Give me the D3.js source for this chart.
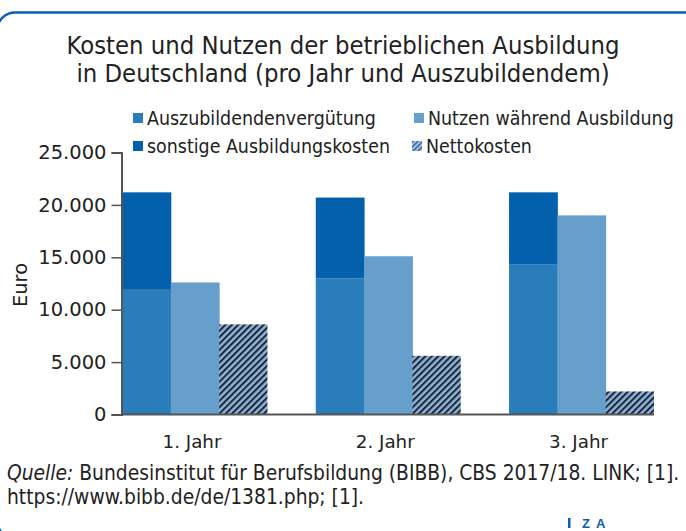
<!DOCTYPE html>
<html lang="de">
<head>
<meta charset="utf-8">
<title>Kosten und Nutzen der betrieblichen Ausbildung</title>
<script src="https://d3js.org/d3.v7.min.js"></script>
<style>
  body { margin: 0; background: #fff; }
  svg { display: block; }
  .narrow { font-family: "Liberation Sans Narrow", "DejaVu Sans Condensed", "Roboto", sans-serif; fill: #222; }
  .wide { font-family: "DejaVu Sans", "Liberation Sans", sans-serif; fill: #222; }
</style>
</head>
<body>
<svg width="686" height="531"></svg>
<script>
// data, in Euro
var years = ['1. Jahr', '2. Jahr', '3. Jahr'];
var verguetung = [11900, 13000, 14300];
var sonstige = [9300, 7700, 6900];
var nutzen = [12600, 15100, 19000];
var netto = [8600, 5600, 2200];
var yTicks = [0, 5000, 10000, 15000, 20000, 25000];

var svg = d3.select('svg');
var x0 = 122.5, x1 = 654, yTop = 152.5, yBot = 414.5;

// frame
svg.append('rect')
  .attr('x', -3).attr('y', 12.5)
  .attr('width', 720).attr('height', 526)
  .attr('rx', 18).attr('ry', 18)
  .attr('fill', 'none').attr('stroke', '#0b5fae').attr('stroke-width', 2.5);

// hatch pattern
var defs = svg.append('defs');
var pat = defs.append('pattern')
  .attr('id', 'hatch').attr('patternUnits', 'userSpaceOnUse')
  .attr('width', 4.5).attr('height', 4.5)
  .attr('patternTransform', 'rotate(45)');
pat.append('rect').attr('width', 4.5).attr('height', 4.5).attr('fill', '#8db2d8');
pat.append('rect').attr('width', 2).attr('height', 4.5).attr('fill', '#1c2634');
var pat2 = defs.append('pattern')
  .attr('id', 'hatchLeg').attr('patternUnits', 'userSpaceOnUse')
  .attr('width', 3.5).attr('height', 3.5)
  .attr('patternTransform', 'rotate(45)');
pat2.append('rect').attr('width', 3.5).attr('height', 3.5).attr('fill', '#a9c6e6');
pat2.append('rect').attr('width', 1.6).attr('height', 3.5).attr('fill', '#3a62a0');

// title
svg.append('text').attr('class', 'narrow')
  .attr('x', 343).attr('y', 54).attr('text-anchor', 'middle')
  .style('font-size', '25.4px')
  .text('Kosten und Nutzen der betrieblichen Ausbildung');
svg.append('text').attr('class', 'narrow')
  .attr('x', 343).attr('y', 82).attr('text-anchor', 'middle')
  .style('font-size', '25.4px')
  .text('in Deutschland (pro Jahr und Auszubildendem)');

// scales
var xScale = d3.scaleBand().domain(years).range([x0, x1]).paddingInner(0.25).paddingOuter(0);
var sub = d3.scaleBand().domain(['a', 'b', 'c']).range([0, xScale.bandwidth()]);
var yScale = d3.scaleLinear().domain([0, 25000]).range([yBot, yTop]);

var bars = svg.append('g');
years.forEach(function(y, i) {
  var g = bars.append('g').attr('transform', 'translate(' + xScale(y) + ',0)');
  g.append('rect')
    .attr('x', sub('a')).attr('width', sub.bandwidth() + 0.5)
    .attr('y', yScale(verguetung[i])).attr('height', yScale(0) - yScale(verguetung[i]))
    .attr('fill', '#2a7dbb');
  g.append('rect')
    .attr('x', sub('a')).attr('width', sub.bandwidth() + 0.5)
    .attr('y', yScale(verguetung[i] + sonstige[i])).attr('height', yScale(verguetung[i]) - yScale(verguetung[i] + sonstige[i]))
    .attr('fill', '#0260ad');
  g.append('rect')
    .attr('x', sub('b')).attr('width', sub.bandwidth() + 0.5)
    .attr('y', yScale(nutzen[i])).attr('height', yScale(0) - yScale(nutzen[i]))
    .attr('fill', '#669ecc');
  g.append('rect')
    .attr('x', sub('c')).attr('width', sub.bandwidth())
    .attr('y', yScale(netto[i])).attr('height', yScale(0) - yScale(netto[i]))
    .attr('fill', 'url(#hatch)');
});

// y axis
var yAxis = svg.append('g')
  .attr('transform', 'translate(' + (x0 - 1) + ',0)')
  .call(d3.axisLeft(yScale).tickValues(yTicks).tickSize(10).tickPadding(5)
    .tickFormat(function(d) { return d3.format(',')(d).replace(/,/g, '.'); }));
yAxis.select('.domain').attr('stroke', '#555').attr('stroke-width', 2);
yAxis.selectAll('.tick line').attr('stroke', '#555').attr('stroke-width', 1.5);
yAxis.selectAll('.tick text').attr('class', 'wide').style('font-size', '19.5px').attr('fill', '#222');

// baseline
svg.append('line')
  .attr('x1', x0 - 1).attr('x2', x1).attr('y1', yBot).attr('y2', yBot)
  .attr('stroke', '#555').attr('stroke-width', 2);

// x labels
svg.selectAll('.xlab').data(years).enter().append('text')
  .attr('class', 'wide xlab')
  .attr('x', function(d) { return xScale(d) + xScale.bandwidth() / 2 - 3; })
  .attr('y', 448).attr('text-anchor', 'middle')
  .style('font-size', '18.3px')
  .text(function(d) { return d; });

// y label
svg.append('text').attr('class', 'wide')
  .attr('transform', 'translate(27,285) rotate(-90)')
  .attr('text-anchor', 'middle').style('font-size', '19.5px')
  .text('Euro');

// legend
var legend = [
  { label: 'Auszubildendenvergütung', fill: '#2a7dbb', x: 133, y: 118 },
  { label: 'Nutzen während Ausbildung', fill: '#669ecc', x: 414, y: 118 },
  { label: 'sonstige Ausbildungskosten', fill: '#0260ad', x: 133, y: 146 },
  { label: 'Nettokosten', fill: 'url(#hatchLeg)', x: 412, y: 146 }
];
var lg = svg.append('g').selectAll('g').data(legend).enter().append('g')
  .attr('transform', function(d) { return 'translate(' + d.x + ',' + d.y + ')'; });
lg.append('rect').attr('x', 0).attr('y', -5).attr('width', 10).attr('height', 10)
  .attr('fill', function(d) { return d.fill; });
lg.append('text').attr('class', 'narrow')
  .attr('x', 14).attr('y', 7).style('font-size', '19.4px')
  .text(function(d) { return d.label; });

// source
var src = svg.append('text').attr('class', 'narrow')
  .attr('x', 7).attr('y', 480).style('font-size', '20.8px');
src.append('tspan').style('font-style', 'italic').text('Quelle:');
src.append('tspan').text(' Bundesinstitut für Berufsbildung (BIBB), CBS 2017/18. LINK; [1].');
svg.append('text').attr('class', 'narrow')
  .attr('x', 7).attr('y', 504).style('font-size', '20.8px')
  .text('https://www.bibb.de/de/1381.php; [1].');

// IZA logo
svg.append('rect').attr('x', 568).attr('y', 518).attr('width', 2.5).attr('height', 10).attr('fill', '#0b5fae');
svg.append('text')
  .attr('x', 582).attr('y', 528)
  .style('font-family', '"Liberation Sans", sans-serif').style('font-size', '13px')
  .style('font-weight', 'bold').style('letter-spacing', '6px')
  .attr('fill', '#0b5fae')
  .text('ZA');
</script>
</body>
</html>
